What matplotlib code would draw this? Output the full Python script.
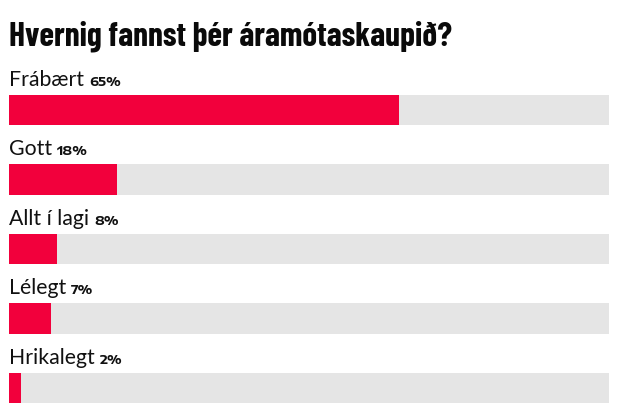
import matplotlib.pyplot as plt

# poll answers and shares (%)
answers = ['Frábært', 'Gott', 'Allt í lagi', 'Lélegt', 'Hrikalegt']
shares = [65, 18, 8, 7, 2]
title = 'Hvernig fannst þér áramótaskaupið?'

red = '#f2003c'
grey = '#e5e5e5'

W, H = 620, 415
fig = plt.figure(figsize=(W / 100, H / 100), dpi=100)

# axes placed in pixels: bars span x 9..609, y 95..403
left, right, top, bottom = 9, 609, 95, 403
ax = fig.add_axes([left / W, 1 - bottom / H, (right - left) / W, (bottom - top) / H])

bar_h = 0.432
pos = list(range(len(answers)))
ax.barh(pos, [100] * len(answers), height=bar_h, color=grey, left=0)
ax.barh(pos, shares, height=bar_h, color=red, left=0)
ax.set_xlim(0, 100)
ax.set_ylim(len(answers) - 1 + bar_h / 2, -bar_h / 2)
ax.axis('off')

for i, (name, val) in enumerate(zip(answers, shares)):
    lab = ax.annotate(name, xy=(0, i - bar_h / 2), xycoords='data',
                      xytext=(0, 9), textcoords='offset pixels',
                      fontsize=15.3, family='Lato', color='#111111',
                      va='baseline', ha='left', annotation_clip=False)
    ax.annotate(f'{val}%', xy=(1, i - bar_h / 2), xycoords=(lab, 'data'),
                xytext=(5, 9), textcoords='offset pixels',
                fontsize=9.3, family=['Encode Sans Expanded', 'DejaVu Sans'], weight='bold',
                color='#111111', va='baseline', ha='left', annotation_clip=False)

fig.text(9 / W, 1 - 45 / H, title, fontsize=24, weight='bold',
         family=['Barlow Condensed', 'DejaVu Sans'], color='#0a0a0a',
         va='baseline', ha='left')

fig.savefig('out.png', dpi=100)
